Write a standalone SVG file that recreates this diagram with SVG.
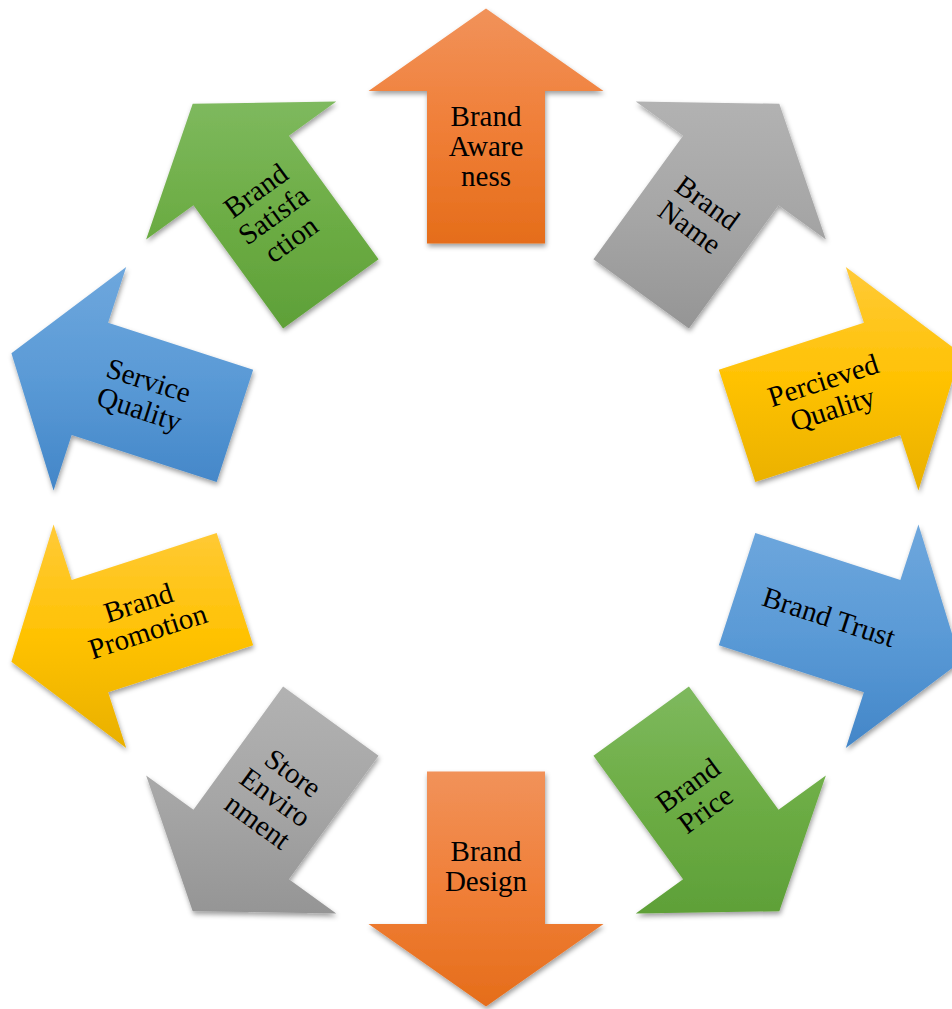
<svg xmlns="http://www.w3.org/2000/svg" width="952" height="1009" viewBox="0 0 952 1009">
<defs>
<linearGradient id="gOrange" x1="0" y1="0" x2="0" y2="1"><stop offset="0" stop-color="#F1925A"/><stop offset="0.5" stop-color="#F07F38"/><stop offset="1" stop-color="#E56D1A"/></linearGradient>
<linearGradient id="gGray" x1="0" y1="0" x2="0" y2="1"><stop offset="0" stop-color="#B2B2B2"/><stop offset="0.5" stop-color="#A6A6A6"/><stop offset="1" stop-color="#959595"/></linearGradient>
<linearGradient id="gGold" x1="0" y1="0" x2="0" y2="1"><stop offset="0" stop-color="#FFCA38"/><stop offset="0.5" stop-color="#FFC203"/><stop offset="1" stop-color="#E9B000"/></linearGradient>
<linearGradient id="gBlue" x1="0" y1="0" x2="0" y2="1"><stop offset="0" stop-color="#6EA7DD"/><stop offset="0.5" stop-color="#5A9AD6"/><stop offset="1" stop-color="#4386C8"/></linearGradient>
<linearGradient id="gGreen" x1="0" y1="0" x2="0" y2="1"><stop offset="0" stop-color="#7EB95E"/><stop offset="0.5" stop-color="#6DAD45"/><stop offset="1" stop-color="#5EA038"/></linearGradient>
<filter id="sh" x="-20%" y="-20%" width="140%" height="140%"><feDropShadow dx="1" dy="3" stdDeviation="2.5" flood-color="#000" flood-opacity="0.38"/></filter>
</defs>
<style>
.arrow{filter:url(#sh);}
.lbl{font-family:"Liberation Serif","Times New Roman",serif;font-size:29px;fill:#000;text-anchor:middle;}
</style>
<g id="nodes">
<g id="brand-awareness">
<polygon class="arrow" fill="url(#gOrange)" points="486,8.5 603.5,91 545,91 545,243.5 427,243.5 427,91 368.5,91"/>
<text class="lbl"><tspan x="486" y="125.5">Brand</tspan><tspan x="486" y="155.5">Aware</tspan><tspan x="486" y="185.5">ness</tspan></text>
</g>
<g id="brand-name">
<polygon class="arrow" fill="url(#gGray)" points="779.30,103.80 825.87,239.60 778.54,205.22 688.91,328.60 593.45,259.24 683.08,135.86 635.75,101.48"/>
<text class="lbl" transform="rotate(36 697.6 216.3)"><tspan x="697.6" y="209.3">Brand</tspan><tspan x="697.6" y="239.3">Name</tspan></text>
</g>
<g id="perceived-quality">
<polygon class="arrow" fill="url(#gGold)" points="960.58,353.30 918.43,490.54 900.35,434.90 755.31,482.03 718.85,369.81 863.89,322.68 845.81,267.04"/>
<text class="lbl" transform="rotate(-18 828.4 396.3)"><tspan x="828.4" y="389.3">Percieved</tspan><tspan x="828.4" y="419.3">Quality</tspan></text>
</g>
<g id="brand-trust">
<polygon class="arrow" fill="url(#gBlue)" points="960.58,661.70 918.43,524.46 900.35,580.10 755.31,532.97 718.85,645.19 863.89,692.32 845.81,747.96"/>
<text class="lbl" transform="rotate(18 828.4 618.7)"><tspan x="828.4" y="626.7">Brand Trust</tspan></text>
</g>
<g id="brand-price">
<polygon class="arrow" fill="url(#gGreen)" points="779.30,911.20 825.87,775.40 778.54,809.78 688.91,686.40 593.45,755.76 683.08,879.14 635.75,913.52"/>
<text class="lbl" transform="rotate(-36 697.6 798.7)"><tspan x="697.6" y="791.7">Brand</tspan><tspan x="697.6" y="821.7">Price</tspan></text>
</g>
<g id="brand-design">
<polygon class="arrow" fill="url(#gOrange)" points="486,1006.5 603.5,924 545,924 545,771.5 427,771.5 427,924 368.5,924"/>
<text class="lbl"><tspan x="486" y="860.5">Brand</tspan><tspan x="486" y="890.5">Design</tspan></text>
</g>
<g id="store-environment">
<polygon class="arrow" fill="url(#gGray)" points="192.70,911.20 146.13,775.40 193.46,809.78 283.09,686.40 378.55,755.76 288.92,879.14 336.25,913.52"/>
<text class="lbl" transform="rotate(36 274.4 798.7)"><tspan x="274.4" y="776.7">Store</tspan><tspan x="274.4" y="806.7">Enviro</tspan><tspan x="274.4" y="836.7">nment</tspan></text>
</g>
<g id="brand-promotion">
<polygon class="arrow" fill="url(#gGold)" points="11.42,661.70 53.57,524.46 71.65,580.10 216.69,532.97 253.15,645.19 108.11,692.32 126.19,747.96"/>
<text class="lbl" transform="rotate(-18 143.6 618.7)"><tspan x="143.6" y="611.7">Brand</tspan><tspan x="143.6" y="641.7">Promotion</tspan></text>
</g>
<g id="service-quality">
<polygon class="arrow" fill="url(#gBlue)" points="11.42,353.30 53.57,490.54 71.65,434.90 216.69,482.03 253.15,369.81 108.11,322.68 126.19,267.04"/>
<text class="lbl" transform="rotate(18 143.6 396.3)"><tspan x="143.6" y="389.3">Service</tspan><tspan x="143.6" y="419.3">Quality</tspan></text>
</g>
<g id="brand-satisfaction">
<polygon class="arrow" fill="url(#gGreen)" points="192.70,103.80 146.13,239.60 193.46,205.22 283.09,328.60 378.55,259.24 288.92,135.86 336.25,101.48"/>
<text class="lbl" transform="rotate(-36 274.4 216.3)"><tspan x="274.4" y="194.3">Brand</tspan><tspan x="274.4" y="224.3">Satisfa</tspan><tspan x="274.4" y="254.3">ction</tspan></text>
</g>
</g>
<g id="connectors"></g>
</svg>
